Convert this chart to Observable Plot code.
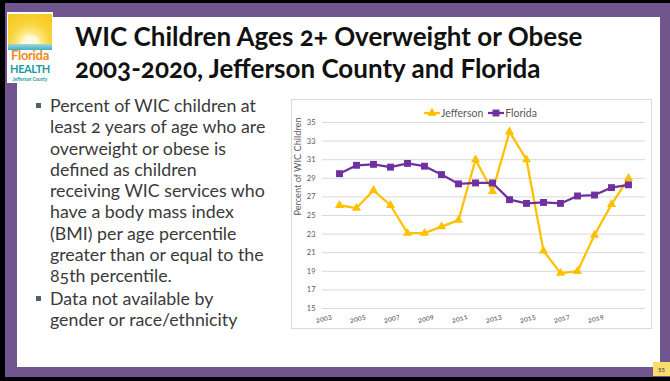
<!DOCTYPE html>
<html>
<head>
<meta charset="utf-8">
<script src="https://cdn.jsdelivr.net/npm/d3@7"></script>
<script src="https://cdn.jsdelivr.net/npm/@observablehq/plot@0.6"></script>
<style>
  html, body { margin: 0; padding: 0; }
  body { width: 670px; height: 381px; background: #000; position: relative; overflow: hidden; font-family: Lato, "Open Sans", sans-serif; }
  .abs { position: absolute; }
  #purple { left: 5px; top: 3px; width: 665px; height: 374px; background: #70558f; }
  #white { left: 17px; top: 17px; width: 643px; height: 350px; background: #fff; }
  #logo { left: 7px; top: 12px; width: 46px; height: 71px; background: #fff; overflow: hidden; }
  #sun { left: 1px; top: 2px; width: 44px; height: 30px;
         background: radial-gradient(circle at 50% 100%, #fffdf0 0, #fff8d0 22%, #fde98a 30%, #f9d43a 55%, #f6c51c 100%); }
  #water { left: 1px; top: 32px; width: 44px; height: 6px; background: linear-gradient(#9fd7e0, #3fb0bf); }
  #fl { left: 0; top: 37px; width: 46px; height: 13px; text-align: center; font: bold 13px Lato, sans-serif; line-height: 13px; color: #ef8a22; letter-spacing: -0.3px; }
  #hl { left: 0; top: 51px; width: 46px; height: 12px; text-align: center; font: bold 11px Lato, sans-serif; line-height: 12px; color: #1b9aa4; letter-spacing: -0.4px; }
  #jc { left: 0; top: 64px; width: 46px; height: 6px; text-align: center; font: bold 4.6px Lato, sans-serif; line-height: 6px; color: #1b9aa4; }
  #title { left: 75px; top: 20px; font: bold 26px Lato, sans-serif; line-height: 32px; color: #111;
           font-variant-numeric: oldstyle-nums; white-space: nowrap; }
  #bullets { left: 50px; top: 95px; font: 17.8px Lato, sans-serif; line-height: 21.3px; color: #3a3a3a;
             font-variant-numeric: oldstyle-nums; white-space: nowrap; }
  .bl { position: relative; }
  .bl + .bl { margin-top: 1.5px; }
  .bl::before { content: ""; position: absolute; left: -14px; top: 8px; width: 5px; height: 5px; background: #4d6275; }
  #chartbox { left: 291px; top: 99px; width: 359px; height: 228px; border: 1px solid #d9d9d9; background: #fff; }
  #chart { left: 292px; top: 100px; }
  #legend { left: 424px; top: 107px; font: 10.5px Lato, sans-serif; color: #595959; display: flex; align-items: center; white-space: nowrap; }
  #legend .item { display: flex; align-items: center; margin-right: 5px; }
  #legend svg { margin-right: 1px; }
  #pnum { left: 653px; top: 362px; width: 17px; height: 14px; background: #f8dc6c; font: 6px Lato, sans-serif; color: #333; text-align: center; line-height: 16px; }
</style>
</head>
<body>
<div id="purple" class="abs"></div>
<div id="white" class="abs"></div>
<div id="logo" class="abs">
  <div id="sun" class="abs"></div>
  <div id="water" class="abs"></div>
  <div id="fl" class="abs">Florida</div>
  <div id="hl" class="abs">HEALTH</div>
  <div id="jc" class="abs">Jefferson County</div>
</div>
<div id="title" class="abs">WIC Children Ages 2+ Overweight or Obese<br>2003-2020, Jefferson County and Florida</div>
<div id="bullets" class="abs">
  <div class="bl">Percent of WIC children at<br>least 2 years of age who are<br>overweight or obese is<br>defined as children<br>receiving WIC services who<br>have a body mass index<br>(BMI) per age percentile<br>greater than or equal to the<br>85th percentile.</div>
  <div class="bl">Data not available by<br>gender or race/ethnicity</div>
</div>
<div id="chartbox" class="abs"></div>
<div id="chart" class="abs"></div>
<div id="legend" class="abs"></div>
<div id="pnum" class="abs">55</div>
<script>
const years = ["2003","2004","2005","2006","2007","2008","2009","2010","2011","2012","2013","2014","2015","2016","2017","2018","2019","2020"];
const jefferson = [26.1, 25.8, 27.7, 26.1, 23.1, 23.1, 23.8, 24.5, 31.0, 27.6, 34.0, 31.0, 21.2, 18.8, 19.0, 22.9, 26.2, 29.0];
const florida   = [29.5, 30.4, 30.5, 30.2, 30.6, 30.3, 29.4, 28.4, 28.5, 28.5, 26.7, 26.3, 26.4, 26.3, 27.1, 27.2, 28.0, 28.3];
const seriesNames = ["Jefferson", "Florida"];
const seriesColors = ["#FFC000", "#7030A0"];
const yTicks = [15, 17, 19, 21, 23, 25, 27, 29, 31, 33, 35];
const xTickLabels = ["2003","2005","2007","2009","2011","2013","2015","2017","2019"];
const yLabel = "Percent of WIC Children";

const jRows = years.map((y, i) => ({year: y, value: jefferson[i], series: seriesNames[0]}));
const fRows = years.map((y, i) => ({year: y, value: florida[i], series: seriesNames[1]}));

const chart = Plot.plot({
  width: 359,
  height: 228,
  marginLeft: 30,
  marginRight: 6,
  marginTop: 22,
  marginBottom: 20,
  style: {fontFamily: "Lato, sans-serif", fontSize: "7.5px", color: "#595959", background: "transparent", fontVariantNumeric: "oldstyle-nums"},
  x: {type: "point", domain: years, padding: 0.5},
  y: {domain: [15, 35]},
  color: {domain: seriesNames, range: seriesColors},
  marks: [
    Plot.gridY(yTicks, {stroke: "#d9d9d9", strokeOpacity: 1, strokeWidth: 1}),
    Plot.axisY(yTicks, {tickSize: 0, tickPadding: 7, label: null}),
    Plot.axisX(xTickLabels, {tickSize: 0, tickRotate: -15, tickPadding: 8, dx: -8, label: null}),
    Plot.text([yLabel], {frameAnchor: "left", rotate: -90, dx: -24, fontSize: 9.2, fill: "#595959"}),
    Plot.line(jRows, {x: "year", y: "value", stroke: "series", strokeWidth: 2.25}),
    Plot.dot(jRows, {x: "year", y: "value", fill: "series", symbol: "triangle", r: 3.4}),
    Plot.line(fRows, {x: "year", y: "value", stroke: "series", strokeWidth: 2.25}),
    Plot.dot(fRows, {x: "year", y: "value", fill: "series", symbol: "square", r: 3.9})
  ]
});
document.getElementById("chart").appendChild(chart);

// legend
const legend = document.getElementById("legend");
const syms = ["triangle", "square"];
seriesNames.forEach((name, i) => {
  const item = document.createElement("div");
  item.className = "item";
  const ns = "http://www.w3.org/2000/svg";
  const svg = document.createElementNS(ns, "svg");
  svg.setAttribute("width", 16); svg.setAttribute("height", 10);
  const line = document.createElementNS(ns, "line");
  line.setAttribute("x1", 0); line.setAttribute("x2", 16); line.setAttribute("y1", 5); line.setAttribute("y2", 5);
  line.setAttribute("stroke", seriesColors[i]); line.setAttribute("stroke-width", 2.25);
  svg.appendChild(line);
  const p = document.createElementNS(ns, "path");
  const sym = syms[i] === "triangle" ? d3.symbolTriangle : d3.symbolSquare;
  p.setAttribute("d", d3.symbol(sym, syms[i] === "triangle" ? Math.PI * 3.4 * 3.4 : Math.PI * 3.9 * 3.9)());
  p.setAttribute("transform", "translate(8,5)");
  p.setAttribute("fill", seriesColors[i]);
  svg.appendChild(p);
  item.appendChild(svg);
  const t = document.createElement("span");
  t.textContent = name;
  item.appendChild(t);
  legend.appendChild(item);
});
</script>
</body>
</html>
